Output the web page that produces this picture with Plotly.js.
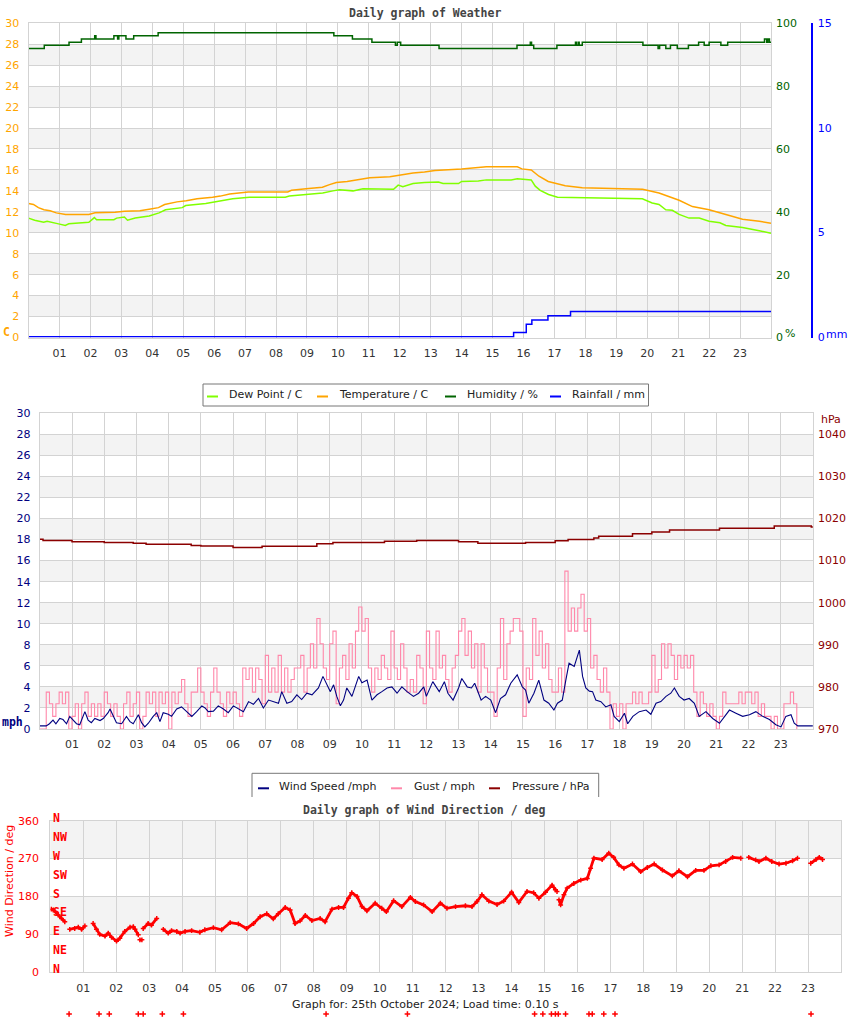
<!DOCTYPE html>
<html><head><meta charset="utf-8">
<script src="https://cdn.plot.ly/plotly-3.0.1.min.js"></script>
<style>html,body{margin:0;padding:0;background:#fff}#chart{width:850px;height:1017px}</style>
</head><body><div id="chart"></div>
<script>
// ---------------- DATA ----------------
const hourTicks = [1,2,3,4,5,6,7,8,9,10,11,12,13,14,15,16,17,18,19,20,21,22,23];
const hourLabels = ['01','02','03','04','05','06','07','08','09','10','11','12','13','14','15','16','17','18','19','20','21','22','23'];

// Chart 1: Weather
const tempTime = [0,0.16,0.32,0.5,0.7,0.9,1.2,1.95,2.15,2.8,3.1,3.6,3.9,4.2,4.4,4.6,4.8,5.1,5.45,5.95,6.2,6.5,6.8,7.1,8.38,8.5,8.97,9.5,9.73,9.95,10.3,10.76,11.03,11.68,12.0,12.43,12.8,13.14,14.0,14.5,14.8,15.8,15.95,16.25,16.5,16.8,17.08,17.35,17.9,18.5,19.85,20.38,20.92,21.03,21.46,22.0,22.54,23.08,23.62,24];
const tempVal  = [12.8,12.7,12.4,12.2,12.1,11.9,11.75,11.75,11.9,11.95,12.05,12.1,12.25,12.4,12.7,12.85,12.95,13.05,13.25,13.4,13.5,13.7,13.8,13.9,13.9,14.05,14.2,14.35,14.6,14.8,14.9,15.1,15.25,15.35,15.5,15.7,15.8,15.95,16.1,16.2,16.3,16.3,16.1,16.0,15.4,14.9,14.7,14.5,14.3,14.25,14.15,13.8,13.25,13.1,12.5,12.2,11.75,11.3,11.1,10.9];

const dewTime = [0,0.2,0.49,0.6,0.97,1.19,1.3,1.95,2.13,2.2,2.76,2.85,3.1,3.2,3.45,3.9,4.22,4.43,4.97,5.08,5.73,6.16,6.6,7.14,8.3,8.43,8.97,9.51,9.84,10.05,10.49,10.81,11.8,11.95,12.1,12.43,12.8,13.25,13.4,13.9,14.0,14.54,14.8,15.6,15.8,16.25,16.38,16.54,16.81,17.1,19.84,20.16,20.38,20.6,20.81,21.03,21.35,21.68,22.0,22.35,22.54,23.08,23.62,24];
const dewVal  = [11.4,11.2,11.0,11.1,10.85,10.7,10.85,11.0,11.45,11.25,11.25,11.4,11.5,11.2,11.4,11.6,11.9,12.2,12.4,12.6,12.8,13.0,13.25,13.4,13.4,13.5,13.65,13.8,14.0,14.1,14.0,14.2,14.15,14.55,14.4,14.7,14.8,14.85,14.7,14.7,14.9,14.95,15.05,15.05,15.15,15.05,14.45,14.05,13.65,13.4,13.25,12.85,12.7,12.2,12.15,11.75,11.4,11.4,11.1,10.95,10.7,10.5,10.2,9.95];

const humTime = [0,0.51,1.31,1.71,2.14,2.18,2.76,2.88,2.92,3.15,3.4,4.19,9.87,10.47,11.1,11.86,11.92,12.03,13.27,15.79,16.22,16.26,16.33,17.08,17.68,17.71,17.77,17.8,17.9,19.86,20.35,20.4,20.6,20.75,20.97,21.33,21.66,21.84,22.0,22.38,22.6,23.79,23.86,23.9,23.95,24];
const humVal  = [92,93,94,95,96,95,96,95,96,95,96,97,96,95,94,93,94,93,92,93,94,93,92,93,94,93,94,93,94,93,92,93,92,93,92,93,94,93,94,93,94,95,94,95,94,94];

const rainTime = [0,15.68,16.09,16.27,16.79,17.52,24];
const rainVal  = [0,0.2,0.6,0.8,1.0,1.2,1.2];

// Chart 2: Wind / pressure
const windTime = [0,0.2,0.3,0.41,0.5,0.62,0.72,0.83,0.93,1.04,1.14,1.24,1.35,1.4,1.5,1.6,1.71,1.87,1.97,2.12,2.18,2.28,2.38,2.54,2.69,2.8,2.9,3.06,3.16,3.26,3.37,3.52,3.63,3.73,3.83,3.99,4.09,4.25,4.4,4.51,4.61,4.72,4.87,5.03,5.13,5.23,5.39,5.54,5.7,5.85,6.01,6.17,6.32,6.48,6.63,6.79,6.94,7.1,7.25,7.41,7.51,7.67,7.82,7.98,8.13,8.29,8.45,8.55,8.65,8.79,8.91,9.02,9.12,9.22,9.33,9.43,9.53,9.69,9.79,9.9,10.0,10.16,10.31,10.47,10.62,10.78,10.93,11.09,11.24,11.4,11.6,11.76,11.92,12.0,12.2,12.4,12.56,12.67,12.83,13.0,13.1,13.27,13.4,13.5,13.7,13.84,14.0,14.15,14.3,14.46,14.62,14.82,14.98,15.08,15.18,15.34,15.49,15.65,15.8,15.96,16.07,16.22,16.33,16.43,16.59,16.7,16.75,16.85,16.95,17.06,17.16,17.26,17.42,17.57,17.73,17.83,17.99,18.15,18.25,18.41,18.61,18.82,18.97,19.13,19.28,19.44,19.59,19.7,19.85,20.0,20.16,20.32,20.47,20.68,20.89,21.1,21.25,21.41,21.61,21.82,22.03,22.23,22.44,22.65,22.85,23.01,23.16,23.32,23.42,23.53,24.0];
const windVal  = [0.3,0.3,0.5,0.85,0.5,1.0,0.9,0.5,1.2,0.85,0.5,0.4,1.2,1.65,0.85,0.6,1.0,0.8,1.0,1.55,1.9,1.2,0.6,0.5,1.2,0.7,0.5,1.35,0.6,0.2,0.55,1.2,1.55,0.7,1.55,1.4,1.2,1.9,2.1,1.8,1.5,1.2,1.65,2.2,2.0,1.65,1.7,2.2,1.9,1.55,2.2,1.9,1.65,2.6,2.35,2.9,2.0,2.75,2.6,2.45,3.55,2.45,2.6,3.25,2.8,3.4,3.25,3.55,3.9,5.0,4.2,3.55,4.2,3.1,2.2,2.75,3.9,3.1,4.0,5.0,4.4,4.65,2.75,3.25,3.55,3.9,4.0,3.4,4.0,3.55,3.1,3.4,4.0,3.1,4.5,3.55,4.5,3.4,2.75,3.9,4.8,4.0,3.9,4.35,2.75,3.1,2.75,1.55,2.9,3.25,4.35,5.15,4.0,3.7,2.45,3.4,4.65,2.75,2.45,1.8,2.45,2.75,4.65,6.25,5.95,6.9,7.5,5.0,3.9,3.6,3.55,2.75,2.6,2.1,2.3,1.2,0.7,1.5,0.5,1.2,1.65,1.8,1.4,2.45,2.6,3.1,3.4,3.9,3.1,2.75,2.9,2.45,1.2,1.65,1.0,0.55,1.2,1.8,1.5,1.2,1.35,1.65,1.2,0.9,0.4,0.2,1.2,1.35,0.55,0.3,0.3];

// gust, one row per hour, readings every 6 minutes
const gustByHour = [
 [0,0,3.5,2.4,1.2,2.4,3.5,2.4,3.5,0],
 [1.2,2.4,0,2.4,3.5,1.2,2.4,1.2,2.4,1.2],
 [3.5,2.4,1.2,2.4,1.2,0,2.4,3.5,1.2,2.4],
 [3.5,0,1.2,3.5,2.4,3.5,1.2,3.5,2.4,3.5],
 [0,3.5,2.4,3.5,4.7,2.4,1.2,3.5,3.5,5.8],
 [3.5,2.4,1.2,3.5,5.8,3.5,2.4,1.2,3.5,2.4],
 [3.5,2.4,1.2,5.8,4.7,5.8,3.5,5.8,4.7,2.4],
 [7.0,3.5,5.8,3.5,7.0,3.5,5.8,3.5,4.7,5.8],
 [5.8,7.0,3.5,5.8,8.1,5.8,10.5,8.1,5.8,4.7],
 [8.1,9.3,2.4,5.8,7.0,4.7,8.1,5.8,9.3,11.6],
 [9.3,10.5,5.8,3.5,5.8,4.7,7.0,5.8,4.7,9.3],
 [5.8,4.7,8.1,5.8,3.5,4.7,3.5,7.0,5.8,2.4],
 [9.3,5.8,4.7,9.3,5.8,7.0,4.7,3.5,5.8,7.0],
 [9.3,10.5,7.0,9.3,5.8,8.1,3.5,8.1,5.8,3.5],
 [3.5,1.2,5.8,10.5,4.7,8.1,9.3,10.5,10.5,9.3],
 [1.2,5.8,4.7,10.5,7.0,9.3,5.8,8.1,4.7,3.5],
 [3.5,5.8,3.5,15.0,9.3,11.5,9.3,11.5,12.8,9.3],
 [10.5,5.8,7.0,4.7,3.5,5.8,3.5,0,2.4,1.2],
 [2.4,0,2.4,2.4,3.5,2.4,3.5,2.4,2.4,3.5],
 [7.0,3.5,4.7,8.1,5.8,8.1,7.0,4.7,7.0,5.8],
 [7.0,5.8,7.0,3.5,1.2,3.5,2.4,1.2,2.4,1.2],
 [0,1.2,3.5,2.4,2.4,2.4,2.4,3.5,2.4,3.5],
 [3.5,2.4,3.5,1.2,2.4,1.2,1.2,0,1.2,0],
 [0,2.4,2.4,3.5,2.4,0]
];

const presTime = [0,0.1,1.0,2.0,2.9,3.3,4.7,5.0,6.0,6.9,8.6,9.1,10.7,11.7,13.0,13.6,15.08,16.0,16.4,17.2,17.35,18.4,19.0,19.55,21.1,22.8,23.95,24];
const presVal  = [1015.1,1014.8,1014.5,1014.3,1014.1,1013.9,1013.6,1013.45,1013.1,1013.4,1014.0,1014.3,1014.6,1014.8,1014.5,1014.1,1014.3,1014.7,1015.0,1015.4,1015.8,1016.4,1016.8,1017.3,1017.7,1018.2,1018.0,1018.0];

// Chart 3: Wind direction (null = gap)
const dirTime = [0.03,0.09,0.24,0.34,0.44,0.52,0.59,0.74,0.85,0.95,1.05,1.18,1.3,1.4,1.5,1.66,1.76,1.86,2.01,2.11,2.26,2.42,2.52,2.57,2.67,2.7,2.72,2.78,2.8,2.82,2.97,3.07,3.23,3.33,3.43,3.58,3.68,3.84,3.94,4.09,4.29,4.54,4.69,4.95,5.2,5.46,5.71,5.96,6.17,6.37,6.57,6.77,6.92,7.13,7.28,7.43,7.58,7.74,7.94,8.19,8.34,8.55,8.75,8.9,9.05,9.15,9.31,9.46,9.61,9.86,10.06,10.2,10.42,10.67,10.93,11.08,11.33,11.59,11.84,12.04,12.3,12.6,12.8,12.95,13.1,13.31,13.56,13.76,14.0,14.22,14.47,14.67,14.83,15.03,15.23,15.33,15.38,15.41,15.44,15.49,15.59,15.69,15.89,16.1,16.3,16.4,16.5,16.75,16.95,17.1,17.26,17.41,17.67,17.92,18.12,18.33,18.58,18.88,19.08,19.34,19.59,19.84,20.05,20.3,20.5,20.71,20.96,21.08,21.2,21.41,21.51,21.72,21.9,22.12,22.33,22.53,22.68,22.9,23.08,23.24,23.34,23.44];
const dirVal  = [150,148,136,128,120,null,102,104,107,102,110,null,116,102,90,86,93,83,74,81,97,107,108,102,89,null,77,77,null,104,116,112,128,null,102,93,99,97,93,97,99,95,101,106,101,118,115,104,116,132,139,127,139,154,148,116,122,135,123,128,120,150,154,154,176,189,180,156,146,164,152,144,170,156,178,168,160,144,164,152,156,158,156,168,184,169,161,169,190,166,192,189,176,190,207,196,192,null,172,160,184,200,211,219,223,247,271,268,283,273,255,247,257,239,249,257,243,229,241,227,242,242,253,255,263,273,271,null,273,267,263,271,263,257,259,265,271,null,259,268,273,268];
// readings logged below the axis (flagged -99)
const dirFlagTime = [0.57,1.48,1.79,2.67,2.82,3.4,4.04,8.37,10.84,14.7,14.95,15.21,15.33,15.42,15.64,16.35,16.45,16.8,17.14,23.09];
const dirFlagVal  = [-99,-99,-99,-99,-99,-99,-99,-99,-99,-99,-99,-99,-99,-99,-99,-99,-99,-99,-99,-99];

// ---------------- BUILD ----------------
const gustTime = [], gustVal = [];
gustByHour.forEach((row, h) => row.forEach((v, i) => { gustTime.push(h + i/10); gustVal.push(v); }));

const W = 850, H = 1017;
const px = x => x / W, py = y => 1 - y / H;
const GRID = '#d3d3d3', BAND = '#f3f3f3';
const ORANGE = '#ffa500', LIME = '#80ff00', DGREEN = '#006400', BLUE = '#0000ff';
const NAVY = '#000080', PINK = '#ff88aa', DRED = '#8b0000', RED = '#ff0000';
const MONO = 'DejaVu Sans Mono';

const traces = [
  {x: dewTime, y: dewVal, name: 'Dew Point / C', type: 'scatter', mode: 'lines', line: {color: LIME, width: 1.5}, xaxis: 'x', yaxis: 'y'},
  {x: tempTime, y: tempVal, name: 'Temperature / C', type: 'scatter', mode: 'lines', line: {color: ORANGE, width: 1.5}, xaxis: 'x', yaxis: 'y'},
  {x: humTime, y: humVal, name: 'Humidity / %', type: 'scatter', mode: 'lines', line: {color: DGREEN, width: 1.5, shape: 'hv'}, xaxis: 'x', yaxis: 'y2'},
  {x: rainTime, y: rainVal, name: 'Rainfall / mm', type: 'scatter', mode: 'lines', line: {color: BLUE, width: 1.5, shape: 'hv'}, xaxis: 'x', yaxis: 'y3'},

  {x: gustTime, y: gustVal, name: 'Gust / mph', type: 'scatter', mode: 'lines', line: {color: PINK, width: 1.1, shape: 'hv'}, xaxis: 'x2', yaxis: 'y4'},
  {x: windTime, y: windVal, name: 'Wind Speed /mph', type: 'scatter', mode: 'lines', line: {color: NAVY, width: 1.1}, xaxis: 'x2', yaxis: 'y4'},
  {x: presTime, y: presVal, name: 'Pressure / hPa', type: 'scatter', mode: 'lines', line: {color: DRED, width: 1.5, shape: 'hv'}, xaxis: 'x2', yaxis: 'y5'},

  {x: dirTime, y: dirVal, name: 'Wind Direction / deg', type: 'scatter', mode: 'lines+markers', line: {color: RED, width: 2.8}, marker: {symbol: 'cross-thin', size: 3.5, color: RED, line: {color: RED, width: 1.5}}, xaxis: 'x3', yaxis: 'y6'},
  {x: dirFlagTime, y: dirFlagVal, name: 'flagged', type: 'scatter', mode: 'markers', marker: {symbol: 'cross-thin', size: 4, color: RED, line: {color: RED, width: 1.5}}, xaxis: 'x4', yaxis: 'y7', cliponaxis: false}
];
traces.forEach(t => t.showlegend = false);

// hand-placed legends matching the original image geometry (entries come from the traces)
const legendDefs = [
  {box: [203, 384, 648.5, 406], closed: true, symY: 396.5, items: [[0, 207, 227], [1, 317, 337], [2, 445, 465], [3, 550, 570]]},
  {box: [252, 773.3, 598.7, 797], closed: false, symY: 788.3, items: [[5, 258, 277], [4, 391, 411.5], [6, 489, 509.5]]}
];
const legendShapes = [], legendAnns = [];
legendDefs.forEach(L => {
  const [x0, y0, x1, y1] = L.box;
  if (L.closed) {
    legendShapes.push({type: 'rect', xref: 'paper', yref: 'paper', x0: px(x0), x1: px(x1), y0: py(y1), y1: py(y0),
      fillcolor: '#fff', line: {color: '#777', width: 1}});
  } else {
    legendShapes.push({type: 'rect', xref: 'paper', yref: 'paper', x0: px(x0), x1: px(x1), y0: py(y1), y1: py(y0),
      fillcolor: '#fff', line: {width: 0}});
    legendShapes.push({type: 'path', xref: 'paper', yref: 'paper',
      path: `M${x0},${y1} L${x0},${y0} L${x1},${y0} L${x1},${y1}`.replace(/(\d+\.?\d*),(\d+\.?\d*)/g, (m, a, b) => px(+a) + ',' + py(+b)),
      line: {color: '#777', width: 1}});
  }
  L.items.forEach(([ti, sx, tx]) => {
    const tr = traces[ti];
    legendShapes.push({type: 'line', xref: 'paper', yref: 'paper', x0: px(sx), x1: px(sx + 11), y0: py(L.symY), y1: py(L.symY),
      line: {color: tr.line.color, width: 2}});
    legendAnns.push({text: tr.name, xref: 'paper', yref: 'paper', x: px(tx), y: py(L.symY - 1.5), xanchor: 'left', yanchor: 'middle',
      showarrow: false, font: {size: 11, color: '#222'}});
  });
});

function xAxis(d0, d1, anchor) {
  return {domain: [px(d0), px(d1)], anchor: anchor, range: [0, 24], tickvals: hourTicks, ticktext: hourLabels,
    showgrid: true, gridcolor: GRID, gridwidth: 1, showline: true, mirror: true, linecolor: GRID, linewidth: 1,
    zeroline: false, ticks: '', ticklabelstandoff: 5, tickfont: {size: 11, color: '#333'}, fixedrange: true};
}
function yLeft(top, bot, anchor, range, dtick, color, extra) {
  return Object.assign({domain: [py(bot), py(top)], anchor: anchor, range: range, dtick: dtick, tick0: 0,
    showgrid: true, gridcolor: GRID, gridwidth: 1, showline: true, mirror: true, linecolor: GRID, linewidth: 1,
    zeroline: false, ticks: '', ticklabelstandoff: 6, tickfont: {size: 11, color: color}, fixedrange: true}, extra || {});
}
function bands(yref, xref, list, w) {
  return list.map(b => ({type: 'rect', xref: xref + ' domain', yref: yref, x0: 0, x1: 1, y0: b, y1: b + w,
    fillcolor: BAND, line: {width: 0}, layer: 'below'}));
}

const compass = ['N','NE','E','SE','S','SW','W','NW','N'];
const compassAnn = compass.map((t, i) => ({text: '<b>' + t + '</b>', xref: 'paper', yref: 'y6', x: px(51), y: i * 45,
  xanchor: 'left', yanchor: 'middle', yshift: 3, showarrow: false, font: {family: MONO, size: 11.5, color: RED}}));

function ann(text, x, y, font, extra) {
  return Object.assign({text: text, xref: 'paper', yref: 'paper', x: px(x), y: py(y), xanchor: 'center', yanchor: 'middle',
    showarrow: false, font: font}, extra || {});
}

const layout = {
  width: W, height: H, margin: {l: 0, r: 0, t: 0, b: 0}, paper_bgcolor: '#fff', plot_bgcolor: 'rgba(0,0,0,0)',
  font: {family: 'DejaVu Sans', size: 11, color: '#222'},
  showlegend: false,
  xaxis: xAxis(28.5, 771, 'y'),
  yaxis: yLeft(23.3, 337.5, 'x', [0, 30], 2, ORANGE),
  yaxis2: {overlaying: 'y', anchor: 'x', side: 'right', range: [0, 100], tickvals: [0,20,40,60,80,100], showgrid: false,
    zeroline: false, showline: false, ticks: '', ticklabelstandoff: 4, tickfont: {size: 11, color: DGREEN}, fixedrange: true},
  yaxis3: {overlaying: 'y', anchor: 'free', position: px(811), side: 'right', range: [-0.04, 15], tickvals: [0, 5, 10, 15], showgrid: false,
    zeroline: false, showline: true, linecolor: BLUE, linewidth: 1.5, ticks: '', ticklabelstandoff: 3,
    tickfont: {size: 11, color: BLUE}, fixedrange: true},

  xaxis2: xAxis(39.8, 812.9, 'y4'),
  yaxis4: yLeft(413.3, 729, 'x2', [0, 30], 2, NAVY),
  yaxis5: {overlaying: 'y4', anchor: 'x2', side: 'right', range: [970, 1045], tickvals: [970,980,990,1000,1010,1020,1030,1040],
    showgrid: false, zeroline: false, showline: false, ticks: '', ticklabelstandoff: 4, tickfont: {size: 11, color: DRED}, fixedrange: true},

  xaxis3: xAxis(50.3, 841, 'y6'),
  yaxis6: yLeft(820.7, 972.3, 'x3', [0, 360], 90, RED, {tickvals: [0, 90, 180, 270, 360], ticklabelstandoff: 8}),
  // strip below the footer where flagged direction readings are plotted
  xaxis4: {domain: [px(50.3), px(841)], anchor: 'y7', range: [0, 24], visible: false, showgrid: false, zeroline: false, fixedrange: true},
  yaxis7: {domain: [0, py(1007)], anchor: 'x4', range: [-105, -85], visible: false, showgrid: false, zeroline: false, fixedrange: true},

  shapes: [].concat(
    bands('y', 'x', [2, 6, 10, 14, 18, 22, 26], 2),
    bands('y4', 'x2', [2, 6, 10, 14, 18, 22, 26], 2),
    bands('y6', 'x3', [90, 270], 90),
    legendShapes
  ),

  annotations: [
    ann('<b>Daily graph of Weather</b>', 425, 13, {family: MONO, size: 11.5, color: '#444'}),
    ann('<b>C</b>', 6, 332, {family: MONO, size: 11.5, color: ORANGE}),
    ann('%', 790, 333, {size: 11, color: DGREEN}),
    ann('mm', 836, 334, {size: 11, color: BLUE}),
    ann('<b>mph</b>', 12, 722, {family: MONO, size: 11.5, color: NAVY}),
    ann('hPa', 831, 419, {size: 11, color: DRED}),
    ann('<b>Daily graph of Wind Direction / deg</b>', 424, 810, {family: MONO, size: 11.5, color: '#444'}),
    ann('Wind Direction / deg', 9, 881, {size: 11, color: RED}, {textangle: -90}),
    ann('Graph for: 25th October 2024; Load time: 0.10 s', 425, 1004, {size: 11, color: '#222'})
  ].concat(compassAnn, legendAnns)
};

Plotly.newPlot('chart', traces, layout, {displayModeBar: false, staticPlot: true});
</script></body></html>
